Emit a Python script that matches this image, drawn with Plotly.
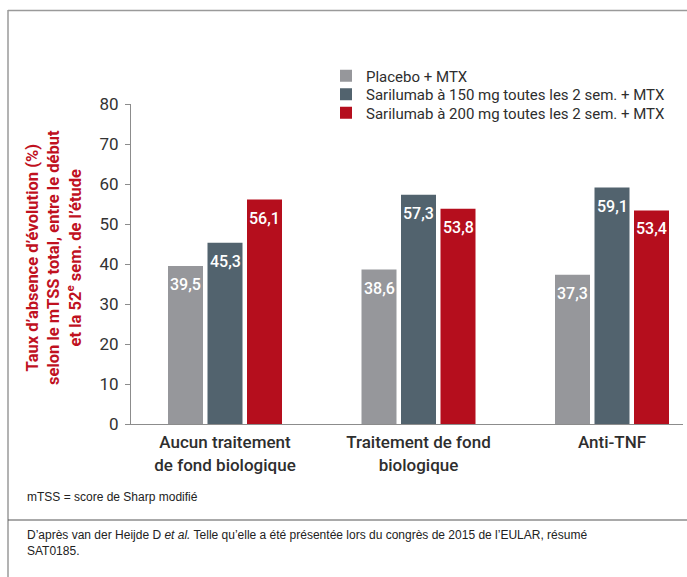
import plotly.graph_objects as go

categories = ["Aucun traitement<br>de fond biologique", "Traitement de fond<br>biologique", "Anti-TNF"]
series_names = ["Placebo + MTX",
                "Sarilumab à 150 mg toutes les 2 sem. + MTX",
                "Sarilumab à 200 mg toutes les 2 sem. + MTX"]
placebo = [39.5, 38.6, 37.3]
sari150 = [45.3, 57.3, 59.1]
sari200 = [56.1, 53.8, 53.4]
colors = ["#96979B", "#52636E", "#B50E1D"]
y_ticks = [0, 10, 20, 30, 40, 50, 60, 70, 80]

W, H = 687, 577
L, R, T, B = 131, 683, 104, 424
PXU = 193.5  # px per category unit
x_range = [-(225 - L) / PXU, 2 + (R - 612) / PXU]
bar_w = 35 / PXU
offs = [-39.5 / PXU, 0, 39.5 / PXU]
legend_rows = [76, 94.5, 113]
legend_ids = ["legend", "legend2", "legend3"]


def px(xp):
    return (xp - L) / (R - L)


def py(yp):
    return (B - yp) / (B - T)


font_dark = "#2E2E2E"
xs = list(range(len(categories)))
fig = go.Figure()
all_series = [placebo, sari150, sari200]
for name, vals, col, off, lid in zip(series_names, all_series, colors, offs, legend_ids):
    fig.add_trace(go.Bar(
        x=xs, y=vals, name=name, marker_color=col, marker_line_width=0,
        width=bar_w, offset=off - bar_w / 2, legend=lid,
    ))
    for xi, v in zip(xs, vals):
        fig.add_annotation(
            x=xi + off, y=v, xref="x", yref="y", text=f"{v:.1f}".replace(".", ","),
            showarrow=False, yanchor="top", xanchor="center", yshift=-7,
            font=dict(family="Roboto", size=16, color="white", weight=500),
        )

legend_common = dict(xanchor="left", yanchor="middle",
                     font=dict(family="Roboto", size=15, color=font_dark),
                     bgcolor="rgba(0,0,0,0)", borderwidth=0)

fig.update_layout(
    width=W, height=H,
    margin=dict(l=L, r=W - R, t=T, b=H - B, pad=0),
    paper_bgcolor="white", plot_bgcolor="white",
    barmode="overlay",
    showlegend=True,
    legend=dict(x=px(326), y=py(legend_rows[0]), **legend_common),
    legend2=dict(x=px(326), y=py(legend_rows[1]), **legend_common),
    legend3=dict(x=px(326), y=py(legend_rows[2]), **legend_common),
    xaxis=dict(range=x_range, tickmode="array", tickvals=xs, ticktext=categories,
               showgrid=False, zeroline=False, showline=True, linecolor="#8C8C8C",
               linewidth=1, ticks="", fixedrange=True, ticklabelstandoff=3,
               tickfont=dict(family="Roboto", size=17, color=font_dark, weight=500)),
    yaxis=dict(range=[0, 80], tickmode="array", tickvals=y_ticks,
               showgrid=False, zeroline=False, showline=True, linecolor="#8C8C8C",
               linewidth=1, ticks="outside", ticklen=5, tickcolor="#8C8C8C",
               ticklabelstandoff=3,
               tickfont=dict(family="Roboto", size=17, color="#333333")),
)

# Y axis title (rotated)
fig.add_annotation(
    xref="paper", yref="paper", x=px(54), y=py(258), textangle=-90,
    text="Taux d’absence d’évolution (%)<br>selon le mTSS total, entre le début<br>et la 52<sup>e</sup> sem. de l’étude",
    showarrow=False, xanchor="center", yanchor="middle",
    font=dict(family="Roboto", size=16.5, color="#C0111F", weight="bold"),
)

# Footer texts
fig.add_annotation(xref="paper", yref="paper", x=px(25), y=py(497), xanchor="left", yanchor="middle",
                   text="mTSS = score de Sharp modifié", showarrow=False, align="left",
                   font=dict(family="Liberation Sans", size=12, color="#222222"))
fig.add_annotation(xref="paper", yref="paper", x=px(25), y=py(526), xanchor="left", yanchor="top",
                   text="D’après van der Heijde D <i>et al.</i> Telle qu’elle a été présentée lors du congrès de 2015 de l’EULAR, résumé<br>SAT0185.",
                   showarrow=False, align="left",
                   font=dict(family="Liberation Sans", size=12, color="#222222"))

# Frame lines
line_style = dict(color="#9A9A9A", width=1.5)
fig.add_shape(type="line", xref="paper", yref="paper", x0=px(8), x1=px(8), y0=py(10), y1=py(577), line=line_style)
fig.add_shape(type="line", xref="paper", yref="paper", x0=px(8), x1=px(690), y0=py(10.5), y1=py(10.5), line=line_style)
fig.add_shape(type="line", xref="paper", yref="paper", x0=px(8), x1=px(690), y0=py(520), y1=py(520),
              line=dict(color="#555555", width=1))

fig.write_html("out.html")
